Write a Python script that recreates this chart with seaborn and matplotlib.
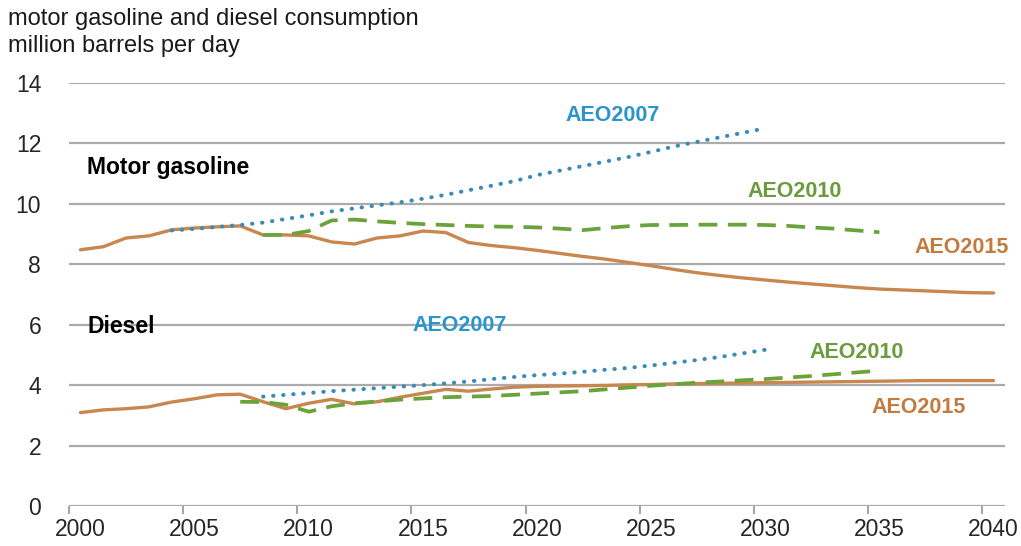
import numpy as np
import pandas as pd
import matplotlib.pyplot as plt
import seaborn as sns

# --------------------------------
# data (million barrels per day)
# --------------------------------
years_2015 = list(range(2000, 2041))
gas_aeo2015 = [8.48, 8.58, 8.87, 8.94, 9.14, 9.20, 9.24, 9.27, 8.97, 8.97,
               8.94, 8.74, 8.67, 8.87, 8.94, 9.10, 9.05, 8.72, 8.62, 8.55,
               8.46, 8.36, 8.26, 8.17, 8.06, 7.95, 7.83, 7.72, 7.63, 7.55,
               7.48, 7.41, 7.35, 7.29, 7.23, 7.18, 7.15, 7.12, 7.09, 7.06,
               7.05]
diesel_aeo2015 = [3.09, 3.18, 3.22, 3.28, 3.44, 3.55, 3.68, 3.70, 3.45, 3.22,
                  3.40, 3.53, 3.38, 3.45, 3.60, 3.73, 3.86, 3.80, 3.87, 3.93,
                  3.96, 3.97, 3.98, 3.99, 4.01, 4.02, 4.04, 4.05, 4.06, 4.07,
                  4.08, 4.09, 4.10, 4.11, 4.12, 4.13, 4.14, 4.15, 4.15, 4.15,
                  4.15]

years_2007_gas = list(range(2004, 2031))
gas_aeo2007 = [9.12, 9.17, 9.24, 9.30, 9.38, 9.50, 9.62, 9.75, 9.85, 9.95,
               10.05, 10.17, 10.30, 10.45, 10.60, 10.75, 10.95, 11.10, 11.25, 11.40,
               11.55, 11.72, 11.90, 12.05, 12.20, 12.35, 12.50]
years_2007_dsl = list(range(2008, 2031))
diesel_aeo2007 = [3.62, 3.68, 3.74, 3.80, 3.85, 3.90, 3.95, 4.00, 4.06, 4.12,
                  4.20, 4.27, 4.33, 4.38, 4.44, 4.51, 4.57, 4.65, 4.74, 4.83,
                  4.93, 5.05, 5.17]

years_2010_gas = list(range(2008, 2036))
gas_aeo2010 = [8.97, 8.97, 9.10, 9.45, 9.48, 9.42, 9.37, 9.33, 9.30, 9.27,
               9.25, 9.24, 9.22, 9.18, 9.13, 9.20, 9.26, 9.30, 9.30, 9.31,
               9.31, 9.31, 9.30, 9.27, 9.22, 9.18, 9.12, 9.06]
years_2010_dsl = list(range(2007, 2036))
diesel_aeo2010 = [3.45, 3.44, 3.35, 3.12, 3.30, 3.40, 3.46, 3.52, 3.56, 3.60,
                  3.62, 3.64, 3.68, 3.72, 3.76, 3.80, 3.86, 3.92, 3.98, 4.03,
                  4.08, 4.12, 4.16, 4.20, 4.25, 4.30, 4.36, 4.42, 4.48]

tick_years = list(range(2000, 2041, 5))
y_ticks = [0, 2, 4, 6, 8, 10, 12, 14]

# colours
c_2015_line, c_2015_txt = '#C8874F', '#C27B3C'
c_2007_line, c_2007_txt = '#3B8BB8', '#2A95CC'
c_2010_line, c_2010_txt = '#6AA33A', '#6A9B3D'

sns.set_style("white")
plt.rcParams['font.family'] = ['Liberation Sans', 'DejaVu Sans']

fig = plt.figure(figsize=(10.21, 5.46), dpi=100)
ax = fig.add_axes([0.0676, 0.0733, 0.9167, 0.7747])

# --------------------------------
# lines
# --------------------------------
for yrs, vals in [(years_2015, gas_aeo2015), (years_2015, diesel_aeo2015)]:
    sns.lineplot(x=yrs, y=vals, ax=ax, color=c_2015_line, lw=2.4,
                 errorbar=None, solid_capstyle='round')
for yrs, vals in [(years_2010_gas, gas_aeo2010), (years_2010_dsl, diesel_aeo2010)]:
    sns.lineplot(x=yrs, y=vals, ax=ax, color=c_2010_line, lw=2.7,
                 linestyle=(0, (5, 2.8)), errorbar=None)
for yrs, vals in [(years_2007_gas, gas_aeo2007), (years_2007_dsl, diesel_aeo2007)]:
    sns.lineplot(x=yrs, y=vals, ax=ax, color=c_2007_line, lw=2.9,
                 linestyle=(0, (0.1, 2.4)), dash_capstyle='round', errorbar=None)

# --------------------------------
# axes styling
# --------------------------------
ax.set_xlim(1999.5, 2040.5)
ax.set_ylim(0, 14)
ax.set_yticks(y_ticks)
ax.set_xticks(tick_years)
ax.set_xticks([y - 0.5 for y in tick_years], minor=True)
ax.tick_params(axis='x', which='major', bottom=False, length=0, pad=9,
               labelsize=16.5)
ax.tick_params(axis='x', which='minor', bottom=True, length=6, width=1.5,
               color='#A6A6A6')
ax.tick_params(axis='y', length=0, pad=20, labelsize=16.5)
ax.set_xlabel('')
ax.set_ylabel('')
for s in ['top', 'right', 'left', 'bottom']:
    ax.spines[s].set_visible(False)
ax.yaxis.grid(True, color='#ABABAB', lw=1.6)
ax.xaxis.grid(False)
ax.set_axisbelow(True)

# --------------------------------
# annotations
# --------------------------------
ax.text(2000.3, 11.19, 'Motor gasoline', fontsize=16.5, fontweight='bold',
        color='black', va='center', ha='left')
ax.text(2000.3, 5.93, 'Diesel', fontsize=16.5, fontweight='bold',
        color='black', va='center', ha='left')

labels = [
    ('AEO2007', 2023.3, 12.91, c_2007_txt),
    ('AEO2010', 2031.3, 10.40, c_2010_txt),
    ('AEO2015', 2038.6, 8.54, c_2015_txt),
    ('AEO2007', 2016.6, 5.99, c_2007_txt),
    ('AEO2010', 2034.0, 5.07, c_2010_txt),
    ('AEO2015', 2036.7, 3.25, c_2015_txt),
]
for txt, x, y, c in labels:
    ax.text(x, y, txt, fontsize=15.5, fontweight='bold', color=c,
            ha='center', va='center')

fig.text(8 / 1021, 1 - 8 / 546,
         'motor gasoline and diesel consumption\nmillion barrels per day',
         fontsize=17, ha='left', va='top', linespacing=1.3, color='#1A1A1A')

fig.savefig('out.png', dpi=100)
